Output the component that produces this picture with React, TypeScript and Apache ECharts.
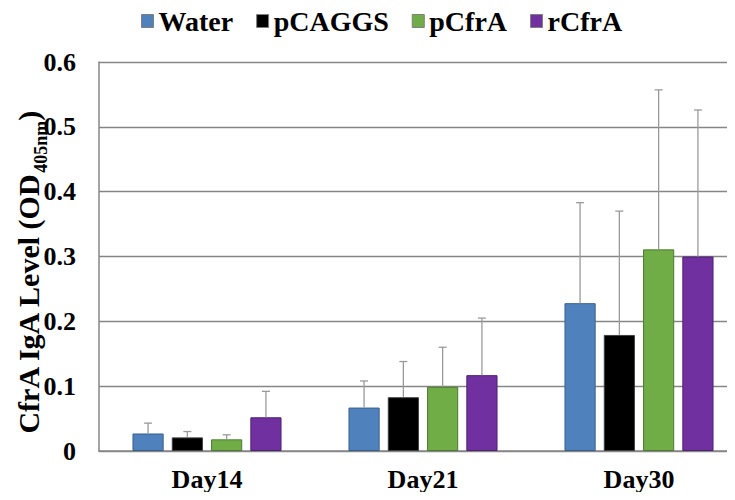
import React, { useEffect, useRef } from "react";
import * as echarts from "echarts";

const categories = ["Day14", "Day21", "Day30"];
const seriesNames = ["Water", "pCAGGS", "pCfrA", "rCfrA"];
const waterValues = [0.027, 0.067, 0.228];
const pcaggsValues = [0.021, 0.083, 0.179];
const pcfraValues = [0.018, 0.099, 0.311];
const rcfraValues = [0.052, 0.117, 0.300];
const waterErr = [0.016, 0.041, 0.155];
const pcaggsErr = [0.009, 0.055, 0.191];
const pcfraErr = [0.007, 0.061, 0.246];
const rcfraErr = [0.040, 0.088, 0.226];
const yTicks = [0, 0.1, 0.2, 0.3, 0.4, 0.5, 0.6];
const yAxisTitle = "{a|CfrA IgA Level (OD}{s|405nm}{a|)}";

const colors = ["#4F81BD", "#000000", "#70AD47", "#7030A0"];
const borders = ["#3A5F8C", "#404040", "#4E7A34", "#4A2270"];

const BAR_CAT_GAP = 0.31;
const BAR_GAP = 0.26;
const FONT = "Liberation Serif";

export default function App() {
  const ref = useRef<HTMLDivElement>(null);
  useEffect(() => {
    if (!ref.current) return;
    const chart = echarts.init(ref.current, null, { renderer: "svg" });
    const values = [waterValues, pcaggsValues, pcfraValues, rcfraValues];
    const errs = [waterErr, pcaggsErr, pcfraErr, rcfraErr];
    const n = seriesNames.length;

    const barSeries = seriesNames.map((name, i) => ({
      name,
      type: "bar",
      data: values[i],
      barCategoryGap: (BAR_CAT_GAP * 100).toFixed(0) + "%",
      barGap: (BAR_GAP * 100).toFixed(0) + "%",
      itemStyle: { color: colors[i], borderColor: borders[i], borderWidth: 1 },
      z: 2,
    }));

    const errSeries = seriesNames.map((name, i) => ({
      name: name + "_err",
      type: "custom",
      data: values[i].map((v, k) => [k, v, v + errs[i][k]]),
      z: 3,
      silent: true,
      renderItem: (params: any, api: any) => {
        const cat = api.value(0);
        const base = api.coord([cat, api.value(1)]);
        const top = api.coord([cat, api.value(2)]);
        const band = api.size([1, 0])[0];
        const region = band * (1 - BAR_CAT_GAP);
        const bw = region / (n + (n - 1) * BAR_GAP);
        const x = base[0] - region / 2 + i * bw * (1 + BAR_GAP) + bw / 2;
        const cap = 4;
        const style = { stroke: "#9a9a9a", lineWidth: 1.3 };
        return {
          type: "group",
          children: [
            { type: "line", shape: { x1: x, y1: base[1], x2: x, y2: top[1] }, style },
            { type: "line", shape: { x1: x - cap, y1: top[1], x2: x + cap, y2: top[1] }, style },
          ],
        };
      },
    }));

    chart.setOption({
      animation: false,
      color: colors,
      textStyle: { fontFamily: FONT },
      legend: {
        data: seriesNames.map((name, i) => ({
          name,
          itemStyle: { color: colors[i], borderColor: "#7f7f7f", borderWidth: 1 },
        })),
        top: 2,
        left: 136,
        icon: "rect",
        itemWidth: 12,
        itemHeight: 13,
        itemGap: 23,
        textStyle: { fontFamily: FONT, fontWeight: "bold", fontSize: 28, color: "#000" },
      },
      graphic: [
        {
          type: "text",
          x: 27,
          y: 273,
          rotation: Math.PI / 2,
          silent: true,
          style: {
            text: yAxisTitle,
            align: "center",
            verticalAlign: "middle",
            fontFamily: FONT,
            fontWeight: "bold",
            fontSize: 30,
            fill: "#000",
            rich: {
              a: { fontFamily: FONT, fontWeight: "bold", fontSize: 30, fill: "#000", lineHeight: 32, verticalAlign: "bottom" },
              s: { fontFamily: FONT, fontWeight: "bold", fontSize: 18, fill: "#000", lineHeight: 32, verticalAlign: "bottom", padding: [0, 0, -7, 0] },
            },
          },
        },
      ],
      grid: { left: 99, top: 62, width: 648, bottom: 49, containLabel: false, outerBoundsMode: "none" },
      xAxis: {
        type: "category",
        data: categories,
        axisLine: { lineStyle: { color: "#868686", width: 1.5 } },
        axisTick: { show: false },
        axisLabel: { fontFamily: FONT, fontWeight: "bold", fontSize: 26, color: "#000", margin: 15 },
      },
      yAxis: {
        type: "value",
        min: yTicks[0],
        max: yTicks[yTicks.length - 1],
        interval: 0.1,
        axisLine: { show: true, lineStyle: { color: "#868686", width: 1.5 } },
        axisTick: { show: false },
        splitLine: { lineStyle: { color: "#868686", width: 1.3 } },
        axisLabel: {
          fontFamily: FONT,
          fontWeight: "bold",
          fontSize: 26,
          color: "#000",
          margin: 23,
          formatter: (v: number) => (v === 0 ? "0" : v.toFixed(1)),
        },
      },
      series: [...barSeries, ...errSeries],
    });
    return () => chart.dispose();
  }, []);
  return <div ref={ref} style={{ width: 735, height: 500, margin: -8 }} />;
}
